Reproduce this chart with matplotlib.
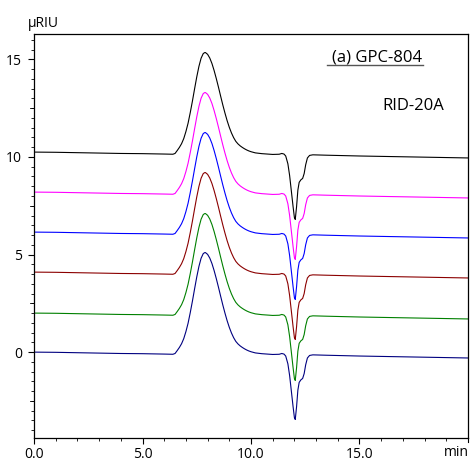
import numpy as np
import matplotlib
matplotlib.use('Agg')
import matplotlib.pyplot as plt
from matplotlib.ticker import MultipleLocator
from matplotlib.lines import Line2D

plt.rcParams['font.family'] = ['Open Sans', 'DejaVu Sans']
plt.rcParams['font.size'] = 10

# shared chromatogram profile (min, uRIU relative to each trace's start level)
time_min = [0.0, 1.0, 2.0, 3.0, 4.0, 5.0, 6.0, 6.4, 6.5, 6.6, 6.7, 6.8, 6.9,
            7.0, 7.1, 7.2, 7.3, 7.4, 7.5, 7.6, 7.7, 7.8, 7.87, 7.9, 8.0, 8.1,
            8.2, 8.3, 8.4, 8.5, 8.6, 8.7, 8.8, 8.9, 9.0, 9.1, 9.2, 9.3, 9.4,
            9.5, 9.6, 9.7, 9.8, 9.9, 10.0, 10.2, 10.5, 11.0, 11.3, 11.42,
            11.52, 11.6, 11.7, 11.78, 11.86, 11.94, 12.0, 12.04, 12.1, 12.16,
            12.22, 12.3, 12.38, 12.45, 12.52, 12.6, 12.7, 12.85, 13.5, 15.0,
            17.0, 20.0]
profile = [0.0, -0.01, -0.03, -0.05, -0.07, -0.08, -0.10, -0.11, -0.07, 0.08,
           0.24, 0.43, 0.69, 1.05, 1.48, 2.02, 2.61, 3.24, 3.85, 4.39, 4.81,
           5.05, 5.1, 5.1, 5.01, 4.82, 4.54, 4.18, 3.77, 3.33, 2.87, 2.42,
           2.0, 1.61, 1.27, 0.98, 0.74, 0.55, 0.42, 0.32, 0.24, 0.17, 0.11,
           0.06, 0.02, -0.04, -0.08, -0.12, -0.11, -0.07, -0.1, -0.2, -0.6,
           -1.2, -2.0, -2.8, -3.35, -3.45, -2.8, -1.95, -1.55, -1.42, -1.35,
           -1.1, -0.65, -0.3, -0.17, -0.14, -0.16, -0.2, -0.24, -0.3]

# vertical offsets of the six runs (bottom to top)
offsets = [0.0, 2.0, 4.1, 6.15, 8.2, 10.25]
colors = ['#000080', '#008000', '#8b0000', '#0000ff', '#ff00ff', '#000000']

fig = plt.figure(figsize=(4.73, 4.61), dpi=100)
ax = fig.add_axes([0.0719, 0.0499, 0.9175, 0.8763])

t = np.array(time_min)
p = np.array(profile)
for off, c in zip(offsets, colors):
    ax.plot(t, p + off, color=c, linewidth=0.8)

ax.set_xlim(0, 20)
ax.set_ylim(-4.4, 16.3)

ax.xaxis.set_minor_locator(MultipleLocator(1))
ax.yaxis.set_minor_locator(MultipleLocator(0.5))
ax.set_xticks([0, 5, 10, 15])
ax.set_xticklabels(['0.0', '5.0', '10.0', '15.0'])
ax.set_yticks([0, 5, 10, 15])
ax.set_yticklabels(['0', '5', '10', '15'])

ax.tick_params(axis='both', which='major', direction='out', length=4.5, width=0.8, pad=2)
ax.tick_params(axis='both', which='minor', direction='out', length=2, width=0.6)
ax.tick_params(axis='y', which='major', pad=4)
# medium ticks at 2.5 on y
for yv in [-2.5, 2.5, 7.5, 12.5]:
    ax.plot([-0.17, 0], [yv, yv], color='black', linewidth=0.6, clip_on=False)
ax.plot([20, 20], [-4.4, -4.6], color='black', linewidth=0.8, clip_on=False)

for s in ax.spines.values():
    s.set_linewidth(0.9)

fig.text(28 / 473, 1 - 27 / 461, 'μRIU', ha='left', va='baseline', fontsize=10)
fig.text(469 / 473, 1 - 456 / 461, 'min', ha='right', va='baseline', fontsize=10)

ax.text(0.894, 0.933, '(a) GPC-804', transform=ax.transAxes, ha='right',
        va='baseline', fontsize=12)
ax.add_line(Line2D([(327 - 34) / 434, (423 - 34) / 434],
                   [(438 - 65) / 404, (438 - 65) / 404],
                   transform=ax.transAxes, color='#555555', linewidth=1.0))
ax.text(0.945, 0.812, 'RID-20A', transform=ax.transAxes, ha='right',
        va='baseline', fontsize=12)

fig.savefig('out.png', dpi=100)
